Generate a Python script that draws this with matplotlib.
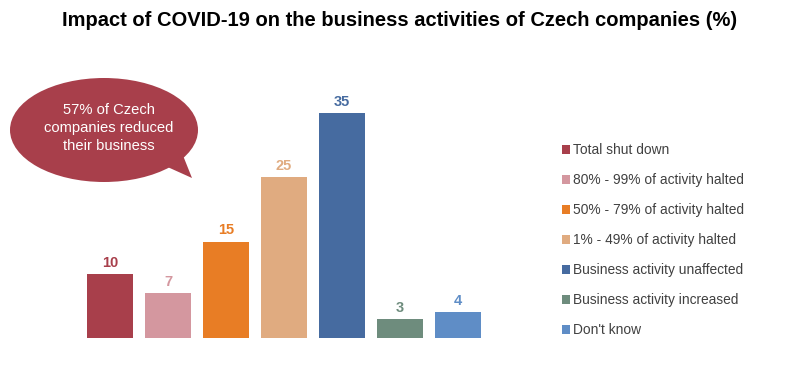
import matplotlib.pyplot as plt
from matplotlib.patches import Ellipse, Polygon

plt.rcParams["font.family"] = ["Liberation Sans", "DejaVu Sans"]

# ---------------------------------------------------------------------------
# Data
# ---------------------------------------------------------------------------
categories = [
    "Total shut down",
    "80% - 99% of activity halted",
    "50% - 79% of activity halted",
    "1% - 49% of activity halted",
    "Business activity unaffected",
    "Business activity increased",
    "Don't know",
]
shares = [10, 7, 15, 25, 35, 3, 4]
colors = ["#A83F4B", "#D4979F", "#E87D25", "#E0AB80", "#466BA0", "#6E8C7D", "#5F8DC6"]
title = "Impact of COVID-19 on the business activities of Czech companies (%)"
callout = "57% of Czech\ncompanies reduced\ntheir business"

W, H = 800, 385
fig = plt.figure(figsize=(W / 100, H / 100), dpi=100)

# bar area in pixels: centres at 110 + 58*i, baseline at y=338
ax = fig.add_axes([75.2 / W, (H - 338) / H, (492.8 - 75.2) / W, 257 / H])
x = list(range(len(categories)))
bars = ax.bar(x, shares, width=0.79, color=colors)
for xi, v, c in zip(x, shares, colors):
    ax.annotate(str(v), (xi, v), xytext=(0, 3), textcoords="offset points",
                ha="center", va="bottom", fontsize=10.5, fontweight="bold", color=c)
ax.set_xlim(-0.6, 6.6)
ax.set_ylim(0, 40)
ax.axis("off")

fig.text(0.5, 1 - 21 / H, title, ha="center", va="center",
         fontsize=14.5, fontweight="bold")

fig.legend(handles=bars.patches, labels=categories, loc="upper left",
           bbox_to_anchor=(556 / W, 1 - 138 / H), frameon=False, fontsize=9.9,
           handlelength=0.6, handleheight=0.6, handletextpad=0.25,
           labelspacing=1.16, borderaxespad=0, labelcolor="#404040")

# speech bubble, drawn in pixel coords
ov = fig.add_axes([0, 0, 1, 1], zorder=5)
ov.set_xlim(0, W)
ov.set_ylim(H, 0)
ov.axis("off")
ov.add_patch(Ellipse((104, 130), 188, 104, color="#A83F4B", lw=0))
ov.add_patch(Polygon([(152, 160), (180, 148), (192, 178)], closed=True,
                     color="#A83F4B", lw=0))
ov.text(109, 128, callout, ha="center", va="center", color="white",
        fontsize=10.6, linespacing=1.35)

fig.savefig("out.png", dpi=100)
